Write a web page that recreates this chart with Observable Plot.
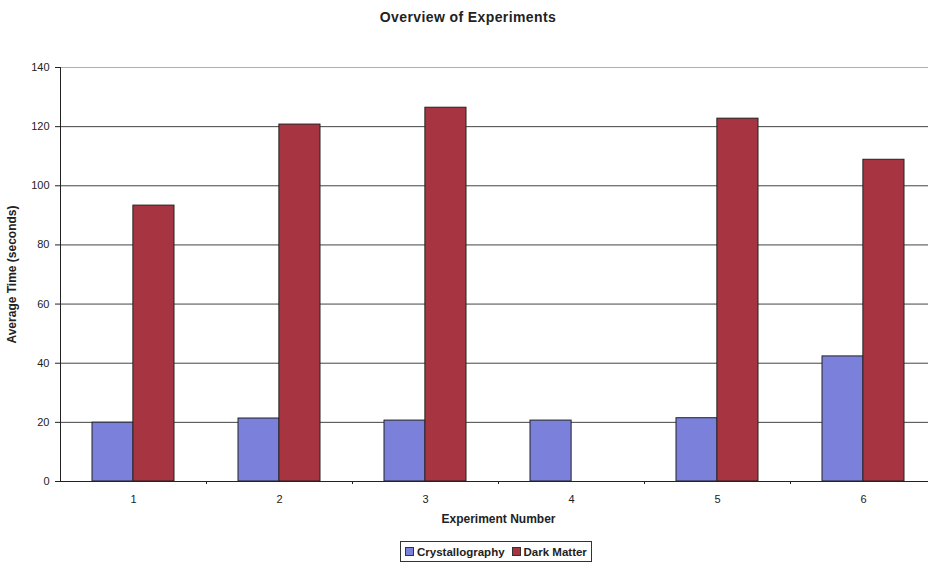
<!DOCTYPE html>
<html>
<head>
<meta charset="utf-8">
<script src="https://cdn.jsdelivr.net/npm/d3@7"></script>
<script src="https://cdn.jsdelivr.net/npm/@observablehq/plot@0.6"></script>
<style>
  html, body { margin: 0; padding: 0; background: #fff; }
  body { width: 928px; height: 566px; position: relative; overflow: hidden; font-family: "Liberation Sans", Arial, sans-serif; }
  #title { position: absolute; left: 0; top: 9px; width: 936px; text-align: center; font-weight: bold; font-size: 14px; letter-spacing: 0.4px; color: #222; }
  #chart { position: absolute; left: 0; top: 40px; }
  #legend { position: absolute; left: 400px; top: 541px; height: 19px; padding: 0 4px; border: 1px solid #333; display: flex; align-items: center; gap: 7px; font-size: 11.5px; font-weight: bold; color: #222; }
  .item { display: flex; align-items: center; gap: 3px; }
  .sw { width: 7px; height: 7px; border: 1px solid #333; }
</style>
</head>
<body>
<div id="title"></div>
<div id="chart"></div>
<div id="legend"></div>
<script>
const title = "Overview of Experiments";
const xLabel = "Experiment Number";
const yLabel = "Average Time (seconds)";
const experiments = [1, 2, 3, 4, 5, 6];
const seriesNames = ["Crystallography", "Dark Matter"];
const crystallography = [19.9, 21.3, 20.6, 20.6, 21.4, 42.3];
const darkMatter = [93.3, 120.7, 126.4, null, 122.7, 108.8];
const yTicks = [0, 20, 40, 60, 80, 100, 120, 140];
const colors = ["#7b80da", "#a73441"];

const cryData = experiments.map((e, i) => ({experiment: e, value: crystallography[i]}));
const dmData = experiments.map((e, i) => ({experiment: e, value: darkMatter[i]})).filter(d => d.value != null);

document.getElementById("title").textContent = title;

const half = 146 * 0.56 / 2;

const plot = Plot.plot({
  width: 928,
  height: 495,
  marginLeft: 60,
  marginRight: 0,
  marginTop: 27,
  marginBottom: 54,
  style: {fontFamily: "Liberation Sans, Arial, sans-serif", fontSize: "11px", background: "#fff", color: "#222"},
  x: {type: "band", domain: experiments, range: [60, 936], paddingInner: 0.44, paddingOuter: 0.22},
  y: {domain: [0, 140]},
  marks: [
    Plot.ruleY(yTicks.filter(t => t > 0 && t < 140), {stroke: "#444", strokeWidth: 1, strokeOpacity: 1}),
    Plot.ruleY([140], {stroke: "#b0b0b0", strokeWidth: 1}),
    Plot.barY(cryData, {x: "experiment", y: "value", fill: colors[0], stroke: "#222", strokeWidth: 1, insetRight: half}),
    Plot.barY(dmData, {x: "experiment", y: "value", fill: colors[1], stroke: "#222", strokeWidth: 1, insetLeft: half}),
    Plot.ruleY([0], {stroke: "#222", strokeWidth: 1}),
    Plot.frame({anchor: "left", stroke: "#222"}),
    Plot.axisY({ticks: yTicks, tickSize: 5, tickPadding: 6, tickFormat: d3.format("d"), label: null, fontSize: 11}),
    Plot.axisX({tickSize: 0, tickPadding: 14, label: null, fontSize: 11}),
    Plot.axisX({tickSize: 3, text: null, label: null, dx: 73, stroke: "#222"}),
    Plot.text([xLabel], {frameAnchor: "bottom", textAnchor: "middle", dy: 41, dx: 4, fontWeight: "bold", fontSize: 12}),
    Plot.text([yLabel], {frameAnchor: "left", textAnchor: "middle", dx: -48, rotate: -90, fontWeight: "bold", fontSize: 12})
  ]
});
document.getElementById("chart").appendChild(plot);

const legend = document.getElementById("legend");
seriesNames.forEach((name, i) => {
  const item = document.createElement("div");
  item.className = "item";
  const sw = document.createElement("div");
  sw.className = "sw";
  sw.style.background = colors[i];
  const label = document.createElement("span");
  label.textContent = name;
  item.appendChild(sw);
  item.appendChild(label);
  legend.appendChild(item);
});
</script>
</body>
</html>
